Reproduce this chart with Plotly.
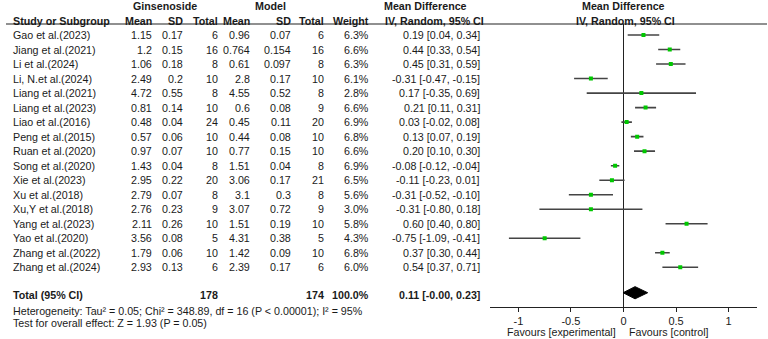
import plotly.graph_objects as go

# ---------------- data ----------------
studies = ["Gao et al.(2023)", "Jiang et al.(2021)", "Li et al.(2024)", "Li, N.et al.(2024)",
           "Liang et al.(2021)", "Liang et al.(2023)", "Liao et al.(2016)", "Peng et al.(2015)",
           "Ruan et al.(2020)", "Song et al.(2020)", "Xie et al.(2023)", "Xu et al.(2018)",
           "Xu,Y et al.(2018)", "Yang et al.(2023)", "Yao et al.(2020)", "Zhang et al.(2022)",
           "Zhang et al.(2024)"]
g_mean = [1.15, 1.2, 1.06, 2.49, 4.72, 0.81, 0.48, 0.57, 0.97, 1.43, 2.95, 2.79, 2.76, 2.11, 3.56, 1.79, 2.93]
g_sd = [0.17, 0.15, 0.18, 0.2, 0.55, 0.14, 0.04, 0.06, 0.07, 0.04, 0.22, 0.07, 0.23, 0.26, 0.08, 0.06, 0.13]
g_n = [6, 16, 8, 10, 8, 10, 24, 10, 10, 8, 20, 8, 9, 10, 5, 10, 6]
m_mean = [0.96, 0.764, 0.61, 2.8, 4.55, 0.6, 0.45, 0.44, 0.77, 1.51, 3.06, 3.1, 3.07, 1.51, 4.31, 1.42, 2.39]
m_sd = [0.07, 0.154, 0.097, 0.17, 0.52, 0.08, 0.11, 0.08, 0.15, 0.04, 0.17, 0.3, 0.72, 0.19, 0.38, 0.09, 0.17]
m_n = [6, 16, 8, 10, 8, 9, 20, 10, 10, 8, 21, 8, 9, 10, 5, 10, 6]
weight = [6.3, 6.6, 6.3, 6.1, 2.8, 6.6, 6.9, 6.8, 6.6, 6.9, 6.5, 5.6, 3.0, 5.8, 4.3, 6.8, 6.0]
md = [0.19, 0.44, 0.45, -0.31, 0.17, 0.21, 0.03, 0.13, 0.20, -0.08, -0.11, -0.31, -0.31, 0.60, -0.75, 0.37, 0.54]
ci_lo = [0.04, 0.33, 0.31, -0.47, -0.35, 0.11, -0.02, 0.07, 0.10, -0.12, -0.23, -0.52, -0.80, 0.40, -1.09, 0.30, 0.37]
ci_hi = [0.34, 0.54, 0.59, -0.15, 0.69, 0.31, 0.08, 0.19, 0.30, -0.04, 0.01, -0.10, 0.18, 0.80, -0.41, 0.44, 0.71]

total_g_n = 178
total_m_n = 174
total_weight = 100.0
total_md = 0.11
total_lo = -0.004
total_hi = 0.23

heterogeneity = "Heterogeneity: Tau² = 0.05; Chi² = 348.89, df = 16 (P < 0.00001); I² = 95%"
overall = "Test for overall effect: Z = 1.93 (P = 0.05)"
tick_vals = [-1, -0.5, 0, 0.5, 1]
tick_text = ["-1", "-0.5", "0", "0.5", "1"]

# ---------------- layout helpers ----------------
W, H = 768, 339
FONT = "Arial, Liberation Sans, Helvetica, sans-serif"
FS = 10.7
TXT = "#1a1a1a"

def px(x):
    return x / W

def py(y):
    return 1 - y / H

rows = list(range(len(studies)))
total_row = 17.9
diamond_row = 17.75

fig = go.Figure()

# CI lines + point estimates
fig.add_trace(go.Scatter(
    x=md, y=rows, mode="markers",
    marker=dict(symbol="square", size=4, color="#00c800", line=dict(width=0)),
    error_x=dict(type="data", symmetric=False,
                 array=[h - m for h, m in zip(ci_hi, md)],
                 arrayminus=[m - l for m, l in zip(md, ci_lo)],
                 color="#444444", thickness=1.6, width=0),
    showlegend=False, hoverinfo="skip"))

# pooled diamond
dh = 0.42
fig.add_trace(go.Scatter(
    x=[total_lo, total_md, total_hi, total_md, total_lo],
    y=[diamond_row, diamond_row - dh, diamond_row, diamond_row + dh, diamond_row],
    mode="lines", fill="toself", fillcolor="black",
    line=dict(color="black", width=1), showlegend=False, hoverinfo="skip"))

ann = []

def add(text, x, y, xanchor="right", yref="y", bold=False, size=FS):
    t = f"<b>{text}</b>" if bold else text
    ann.append(dict(text=t, x=px(x), y=y, xref="paper", yref=yref,
                    xanchor=xanchor, yanchor="middle", showarrow=False,
                    font=dict(family=FONT, size=size, color=TXT), borderpad=0))

# header rows
add("Ginsenoside", 165, py(6), "center", "paper", True)
add("Model", 270.5, py(6), "center", "paper", True)
add("Mean Difference", 425, py(6), "center", "paper", True)
add("Mean Difference", 623, py(6), "center", "paper", True)
add("Study or Subgroup", 12, py(20.5), "left", "paper", True)
add("Mean", 153, py(20.5), "right", "paper", True)
add("SD", 184, py(20.5), "right", "paper", True)
add("Total", 218.5, py(20.5), "right", "paper", True)
add("Mean", 251, py(20.5), "right", "paper", True)
add("SD", 292, py(20.5), "right", "paper", True)
add("Total", 325, py(20.5), "right", "paper", True)
add("Weight", 370, py(20.5), "right", "paper", True)
add("IV, Random, 95% CI", 485, py(20.5), "right", "paper", True)
add("IV, Random, 95% CI", 625, py(20.5), "center", "paper", True)

# study rows
for i, s in enumerate(studies):
    add(s, 12, i, "left")
    add(str(g_mean[i]), 153, i)
    add(str(g_sd[i]), 184, i)
    add(str(g_n[i]), 218.5, i)
    add(str(m_mean[i]), 251, i)
    add(str(m_sd[i]), 292, i)
    add(str(m_n[i]), 325, i)
    add(f"{weight[i]:.1f}%", 370, i)
    add(f"{md[i]:.2f} [{ci_lo[i]:.2f}, {ci_hi[i]:.2f}]", 481, i)

# total row
add("Total (95% CI)", 12, total_row, "left", bold=True)
add(str(total_g_n), 218.5, total_row, bold=True)
add(str(total_m_n), 325, total_row, bold=True)
add(f"{total_weight:.1f}%", 370, total_row, bold=True)
add(f"{total_md:.2f} [{total_lo:.2f}, {total_hi:.2f}]", 481, total_row, bold=True)

add(heterogeneity, 12, py(311), "left", "paper")
add(overall, 12, py(323), "left", "paper")

add("Favours [experimental]", 617, py(331.5), "right", "paper")
add("Favours [control]", 628, py(331.5), "left", "paper")

# header underline
shapes = [dict(type="line", xref="paper", yref="paper", x0=px(6), x1=px(767),
               y0=py(24), y1=py(24), line=dict(color="#222", width=1.2))]

y_top_px, y_bot_px = 24, 306.7
row0_px, step = 35, 14.52
fig.update_layout(
    width=W, height=H, margin=dict(l=0, r=0, t=0, b=0),
    paper_bgcolor="white", plot_bgcolor="white",
    annotations=ann, shapes=shapes,
    xaxis=dict(domain=[px(490), px(757)], range=[-1.27, 1.27],
               showgrid=False, zeroline=True, zerolinecolor="#222", zerolinewidth=1.2,
               showline=True, linecolor="#222", linewidth=1.2,
               ticks="outside", ticklen=4, tickcolor="#222", tickwidth=1,
               tickvals=tick_vals, ticktext=tick_text,
               tickfont=dict(family=FONT, size=11, color=TXT), fixedrange=True),
    yaxis=dict(domain=[py(y_bot_px), py(y_top_px)],
               range=[(y_bot_px - row0_px) / step, (y_top_px - row0_px) / step],
               visible=False, showgrid=False, zeroline=False, fixedrange=True),
)

fig.write_html("out.html", config={"displayModeBar": False},
               post_script="document.body.style.margin='0px';document.body.style.padding='0px';")
